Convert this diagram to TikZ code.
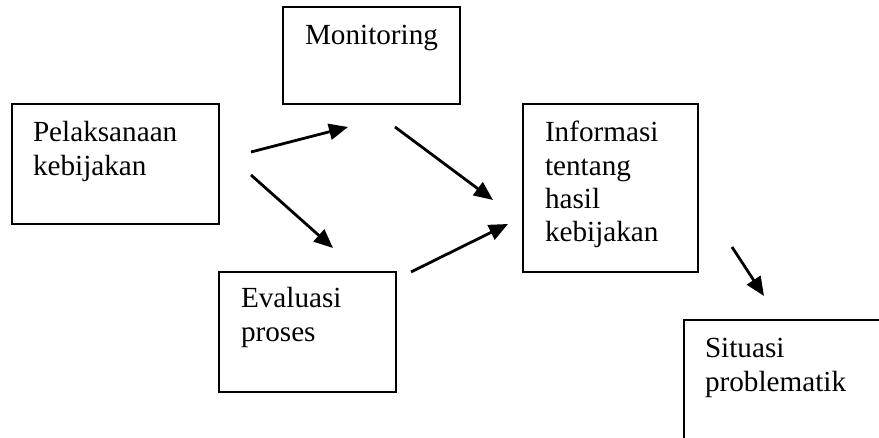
\documentclass[tikz,border=0pt]{standalone}
\usepackage{fontspec}
\setmainfont{Liberation Serif}
\usetikzlibrary{arrows.meta}
\newcommand\mylines[1]{\begin{tabular}[t]{@{}l@{}}#1\end{tabular}}
\begin{document}
\begin{tikzpicture}[x=0.5pt,y=-0.5pt,
  box/.style={draw=black,line width=1.25pt,rectangle,inner sep=0pt,outer sep=0pt,anchor=north west},
  txt/.style={inner sep=0pt,outer sep=0pt,anchor=base west,font=\fontsize{14.6}{16.65}\selectfont},
  arr/.style={line width=1.4pt,-{Triangle[length=9.5pt,width=8pt]}}]
\clip (0,0) rectangle (879,438);
\fill[white] (0,0) rectangle (879,438);
% boxes
\node[box,minimum width=103.5pt,minimum height=60pt] (b1) at (12,104) {};
\node[box,minimum width=88.5pt,minimum height=48.5pt] (b2) at (283,7) {};
\node[box,minimum width=88.5pt,minimum height=60pt] (b3) at (219,272) {};
\node[box,minimum width=87.5pt,minimum height=84pt] (b4) at (523,104) {};
\node[box,minimum width=120pt,minimum height=80pt] (b5) at (684,320) {};
% texts
\node[txt] (t1) at (33,142) {\mylines{Pelaksanaan\\kebijakan}};
\node[txt] (t2) at (305,45) {Monitoring};
\node[txt] (t3) at (241,308) {\mylines{Evaluasi\\proses}};
\node[txt] (t4) at (545,142) {\mylines{Informasi\\tentang\\hasil\\kebijakan}};
\node[txt] (t5) at (705,358) {\mylines{Situasi\\problematik}};
% arrow ends
\coordinate (a1s) at (251,152); \coordinate (a1e) at (348,127);
\coordinate (a2s) at (395,127); \coordinate (a2e) at (493,200);
\coordinate (a3s) at (251,175); \coordinate (a3e) at (333,248);
\coordinate (a4s) at (411,272); \coordinate (a4e) at (508,224);
\coordinate (a5s) at (732,247); \coordinate (a5e) at (764,296);
\draw[arr] (a1s) -- (a1e);
\draw[arr] (a2s) -- (a2e);
\draw[arr] (a3s) -- (a3e);
\draw[arr] (a4s) -- (a4e);
\draw[arr] (a5s) -- (a5e);
\end{tikzpicture}
\end{document}
